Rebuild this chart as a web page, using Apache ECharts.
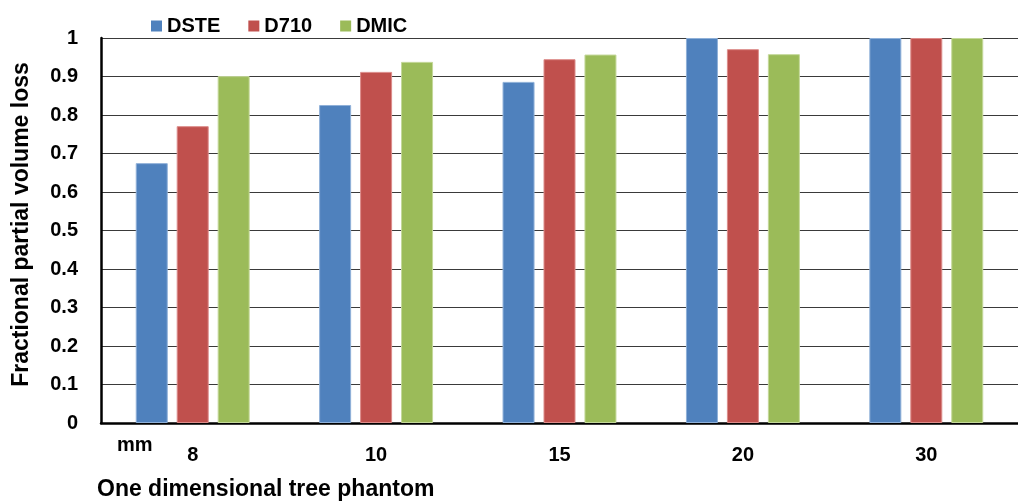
<!DOCTYPE html>
<html>
<head>
<meta charset="utf-8">
<script src="https://cdn.jsdelivr.net/npm/echarts@6/dist/echarts.min.js"></script>
<style>
  html, body { margin: 0; padding: 0; background: #fff; }
  #chart { width: 1018px; height: 502px; }
</style>
</head>
<body>
<div id="chart"></div>
<script>
// Phantom sizes (mm) and fractional partial volume loss per reconstruction
const categories = ['8', '10', '15', '20', '30'];
const seriesNames = ['DSTE', 'D710', 'DMIC'];
const dste = [0.675, 0.826, 0.886, 1.0, 1.0];
const d710 = [0.771, 0.912, 0.945, 0.971, 1.0];
const dmic = [0.901, 0.938, 0.957, 0.958, 1.0];
const colors = ['#4F81BD', '#C0504D', '#9BBB59'];
const borders = ['#8fb0d8', '#dc8c8a', '#c4d89a'];

const font = 'Liberation Sans, Arial, sans-serif';
const chart = echarts.init(document.getElementById('chart'), null, { renderer: 'canvas' });

const values = [dste, d710, dmic];
const series = seriesNames.map((name, i) => ({
  name,
  type: 'bar',
  data: values[i],
  barWidth: 32,
  barGap: '28%',
  itemStyle: { color: colors[i], borderColor: borders[i], borderWidth: 1 },
  emphasis: { disabled: true }
}));

chart.setOption({
  animation: false,
  backgroundColor: '#ffffff',
  textStyle: { fontFamily: font },
  legend: {
    data: seriesNames.map((name, i) => ({ name, itemStyle: { color: colors[i], borderWidth: 0 } })),
    left: 146,
    top: 11,
    itemWidth: 11,
    itemHeight: 11,
    itemGap: 28,
    icon: 'rect',
    textStyle: { fontFamily: font, fontSize: 20, fontWeight: 'bold', color: '#000' }
  },
  grid: { left: 101, right: -9, top: 38, bottom: 79, containLabel: false },
  xAxis: {
    type: 'category',
    data: categories,
    axisLine: { show: true, lineStyle: { color: '#000', width: 2.5 } },
    axisTick: { show: false },
    axisLabel: { margin: 22, fontFamily: font, fontSize: 20, fontWeight: 'bold', color: '#000' },
    name: 'One dimensional tree phantom',
    nameLocation: 'start',
    nameGap: 0,
    nameTextStyle: {
      fontFamily: font, fontSize: 23, fontWeight: 'bold', color: '#000',
      align: 'left', verticalAlign: 'top', padding: [55, 0, 0, -4]
    }
  },
  yAxis: {
    type: 'value',
    min: 0,
    max: 1,
    interval: 0.1,
    axisLine: { show: true, lineStyle: { color: '#000', width: 2.5 } },
    axisTick: { show: false },
    axisLabel: {
      margin: 23, fontFamily: font, fontSize: 20, fontWeight: 'bold', color: '#000',
      formatter: v => String(Math.round(v * 10) / 10)
    },
    splitLine: { show: true, lineStyle: { color: '#3a3a3a', width: 1.2 } },
    name: 'Fractional partial volume loss',
    nameLocation: 'middle',
    nameGap: 68,
    nameRotate: 90,
    nameTextStyle: {
      fontFamily: font, fontSize: 23, fontWeight: 'bold', color: '#000',
      padding: [0, 0, 0, 12]
    }
  },
  graphic: [{
    type: 'text',
    left: 117,
    top: 435,
    style: { text: 'mm', fontFamily: font, fontSize: 20, fontWeight: 'bold', fill: '#000' }
  }],
  series
});
</script>
</body>
</html>
